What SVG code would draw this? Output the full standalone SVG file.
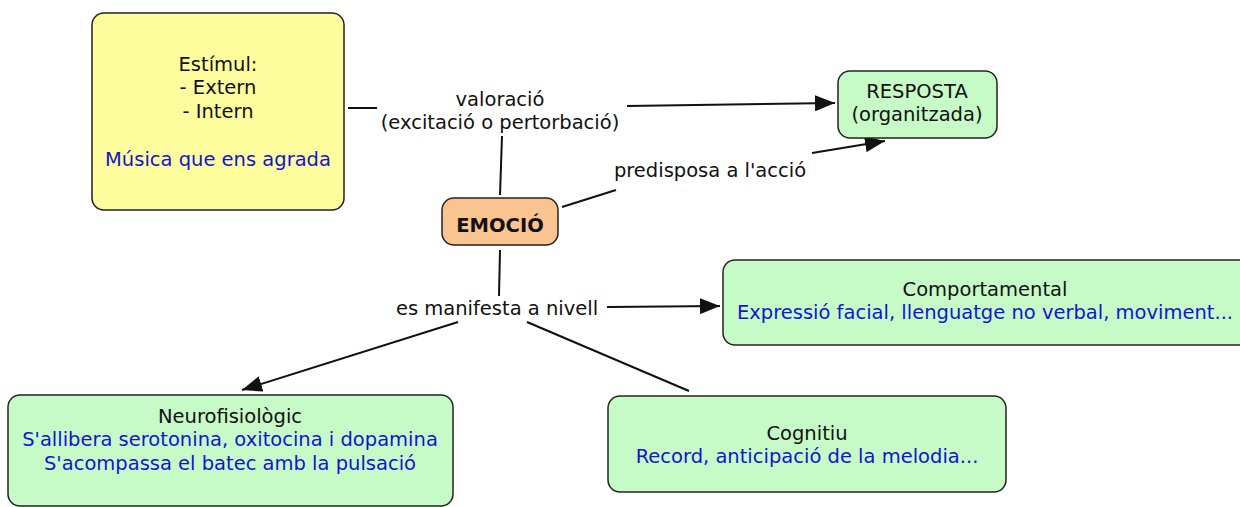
<svg xmlns="http://www.w3.org/2000/svg" width="1240" height="507" viewBox="0 0 1240 507">
<style>
text{font-family:"DejaVu Sans",Verdana,sans-serif;font-size:19.5px;fill:#111;text-anchor:middle}
.b{fill:#1414d2}
.box{stroke:#222;stroke-width:1.5}
.y{fill:#fdfd9e}
.g{fill:#c6fac6}
.o{fill:#f9c490}
.ln{stroke:#111;stroke-width:2;fill:none}
</style>
<defs>
<marker id="a" viewBox="0 0 20 16" refX="20" refY="8" markerWidth="20" markerHeight="16" markerUnits="userSpaceOnUse" orient="auto">
<path d="M0,0L20,8L0,16z" fill="#111"/>
</marker>
</defs>
<rect width="1240" height="507" fill="#fff"/>
<g id="connectors">
<line class="ln" x1="348" y1="108" x2="377" y2="108"/>
<line class="ln" x1="627" y1="106" x2="835" y2="103" marker-end="url(#a)"/>
<line class="ln" x1="500" y1="195" x2="502" y2="136"/>
<line class="ln" x1="562" y1="207" x2="616" y2="190"/>
<line class="ln" x1="812" y1="153" x2="885" y2="141" marker-end="url(#a)"/>
<line class="ln" x1="500" y1="250" x2="499" y2="296"/>
<line class="ln" x1="607" y1="307" x2="720" y2="306" marker-end="url(#a)"/>
<line class="ln" x1="458" y1="322" x2="242" y2="390" marker-end="url(#a)"/>
<line class="ln" x1="527" y1="322" x2="689" y2="391"/>
<text x="500" y="106">valoració</text>
<text x="500" y="129">(excitació o pertorbació)</text>
<text x="710" y="177">predisposa a l'acció</text>
<text x="497" y="315">es manifesta a nivell</text>
</g>
<g id="estimul">
<rect class="box y" x="92" y="13" width="252" height="197" rx="12"/>
<text x="218" y="71">Estímul:</text>
<text x="218" y="94">- Extern</text>
<text x="218" y="118">- Intern</text>
<text class="b" x="218" y="166">Música que ens agrada</text>
</g>
<g id="resposta">
<rect class="box g" x="838" y="71" width="159" height="67" rx="12"/>
<text x="917" y="98">RESPOSTA</text>
<text x="917" y="121">(organitzada)</text>
</g>
<g id="emocio">
<rect class="box o" x="442" y="198" width="116" height="47" rx="12"/>
<text x="500" y="232" font-weight="bold">EMOCIÓ</text>
</g>
<g id="comportamental">
<rect class="box g" x="723" y="260" width="530" height="85" rx="12"/>
<text x="985" y="296">Comportamental</text>
<text class="b" x="985" y="319">Expressió facial, llenguatge no verbal, moviment...</text>
</g>
<g id="neurofisiologic">
<rect class="box g" x="8" y="395" width="445" height="111" rx="12"/>
<text x="230" y="423">Neurofisiològic</text>
<text class="b" x="230" y="446">S'allibera serotonina, oxitocina i dopamina</text>
<text class="b" x="230" y="470">S'acompassa el batec amb la pulsació</text>
</g>
<g id="cognitiu">
<rect class="box g" x="608" y="396" width="398" height="96" rx="12"/>
<text x="807" y="440">Cognitiu</text>
<text class="b" x="807" y="463">Record, anticipació de la melodia...</text>
</g>
</svg>
